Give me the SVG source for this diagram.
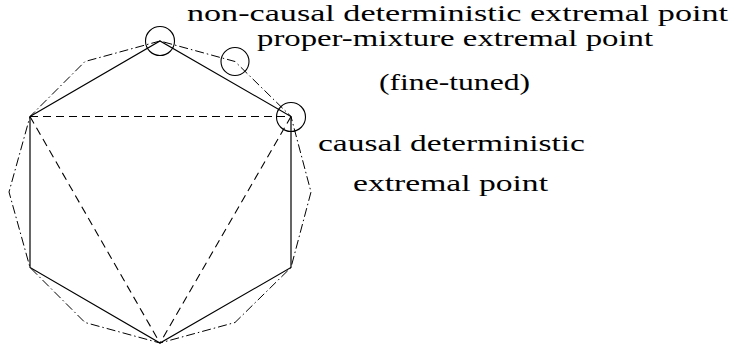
<svg xmlns="http://www.w3.org/2000/svg" width="730" height="350" viewBox="0 0 730 350">
<style>
.solid{fill:none;stroke:#000;stroke-width:1.2}
.dashed{fill:none;stroke:#000;stroke-width:1.1;stroke-dasharray:8 5}
.dashdot{fill:none;stroke:#000;stroke-width:1;stroke-dasharray:9 3 1.5 3}
.mark{fill:none;stroke:#000;stroke-width:1.1}
.lbl{font-family:"Times New Roman","Liberation Serif",Times,serif;font-size:24px;fill:#000;text-anchor:middle}
</style>
<rect width="730" height="350" fill="#fff"/>
<g id="connectors">
<polygon class="dashdot" points="160,41 85,61.5 30,116.5 9,192 30,267.5 85,322.5 160,343 235,322.5 291,267.5 311,192 291,116.5 235,61.5"/>
<polyline class="solid" points="30,116.5 160,41 291,116.5 291,267.5 160,343 30,267.5 30,116.5"/>
<line class="dashed" x1="30" y1="116.5" x2="291" y2="116.5"/>
<line class="dashed" x1="30" y1="116.5" x2="160" y2="343"/>
<line class="dashed" x1="291" y1="116.5" x2="160" y2="343"/>
</g>
<g id="noncausal-point"><circle class="mark" cx="160" cy="41" r="14.5"/></g>
<g id="mixture-point"><circle class="mark" cx="235" cy="61.5" r="14"/></g>
<g id="causal-point"><circle class="mark" cx="291" cy="117" r="14.5"/></g>
<g id="label-noncausal"><text class="lbl" x="457.5" y="21" textLength="541" lengthAdjust="spacingAndGlyphs">non-causal deterministic extremal point</text></g>
<g id="label-mixture">
<text class="lbl" x="455" y="46" textLength="396" lengthAdjust="spacingAndGlyphs">proper-mixture extremal point</text>
<text class="lbl" x="454.5" y="90" textLength="151" lengthAdjust="spacingAndGlyphs">(fine-tuned)</text>
</g>
<g id="label-causal">
<text class="lbl" x="451.5" y="151" textLength="267" lengthAdjust="spacingAndGlyphs">causal deterministic</text>
<text class="lbl" x="450.5" y="191" textLength="195" lengthAdjust="spacingAndGlyphs">extremal point</text>
</g>
</svg>
